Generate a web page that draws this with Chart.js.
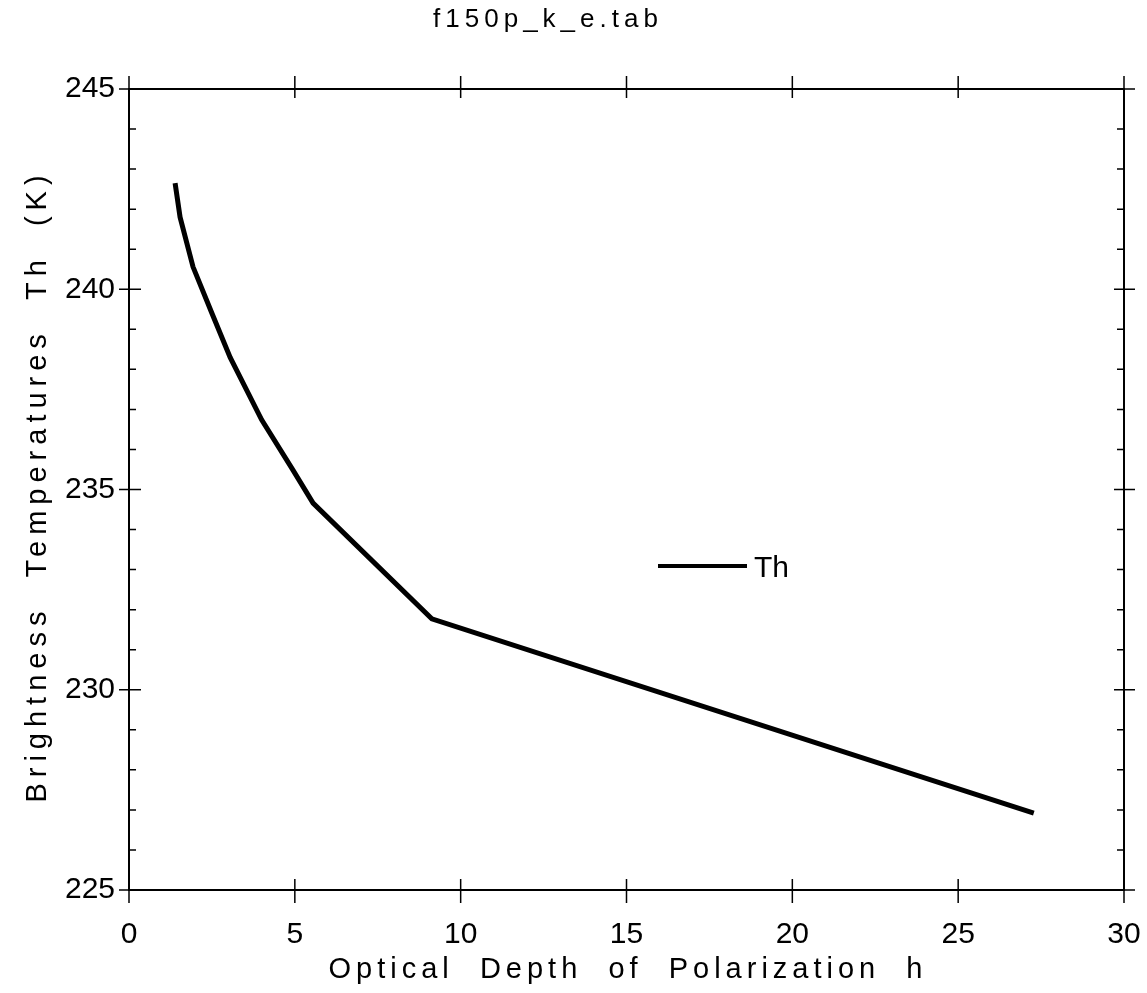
<!DOCTYPE html>
<html lang="en">
<head>
  <meta charset="UTF-8" />
  <title>f150p_k_e.tab</title>
  <script src="https://cdn.jsdelivr.net/npm/chart.js"></script>
  <style>
    body { margin: 0; background: #fff; }
    #wrap { width: 1147px; height: 993px; position: relative; }
  </style>
</head>
<body>
  <div id="wrap"><canvas id="chart" width="1147" height="993"></canvas></div>
  <script>
    // optical depth h vs brightness temperature Th
    const hValues  = [1.39, 1.54, 1.93, 2.5, 3.05, 4.0, 4.94, 5.55, 9.13, 27.28];
    const thValues = [242.65, 241.8, 240.56, 239.4, 238.3, 236.74, 235.49, 234.66, 231.77, 226.92];
    const xTicks = [0, 5, 10, 15, 20, 25, 30];
    const yTicks = [225, 230, 235, 240, 245];
    const yMinorStep = 1;

    const points = hValues.map((h, i) => ({ x: h, y: thValues[i] }));
    const FONT = '"Liberation Sans", Arial, sans-serif';

    // frame, crossing major ticks, inner minor ticks, legend and titles
    const framePlugin = {
      id: 'frame',
      afterDraw(chart) {
        const { ctx, chartArea: a, scales: { x, y } } = chart;
        ctx.save();
        ctx.strokeStyle = '#000';
        ctx.lineWidth = 2;
        ctx.strokeRect(a.left, a.top, a.right - a.left, a.bottom - a.top);

        ctx.lineWidth = 1.5;
        ctx.beginPath();
        xTicks.forEach(v => {
          const px = x.getPixelForValue(v);
          ctx.moveTo(px, a.bottom - 11); ctx.lineTo(px, a.bottom + 13);
          ctx.moveTo(px, a.top - 13); ctx.lineTo(px, a.top + 9);
        });
        yTicks.forEach(v => {
          const py = y.getPixelForValue(v);
          ctx.moveTo(a.left - 10, py); ctx.lineTo(a.left + 12, py);
          ctx.moveTo(a.right - 10, py); ctx.lineTo(a.right + 11, py);
        });
        for (let v = yTicks[0]; v <= yTicks[yTicks.length - 1]; v += yMinorStep) {
          if (yTicks.includes(v)) continue;
          const py = y.getPixelForValue(v);
          ctx.moveTo(a.left, py); ctx.lineTo(a.left + 7, py);
          ctx.moveTo(a.right - 7, py); ctx.lineTo(a.right, py);
        }
        ctx.stroke();

        // legend
        const ds = chart.data.datasets[0];
        ctx.lineWidth = 4;
        ctx.beginPath();
        ctx.moveTo(658, 566); ctx.lineTo(747, 566);
        ctx.stroke();
        ctx.fillStyle = '#000';
        ctx.font = '30px ' + FONT;
        ctx.textBaseline = 'alphabetic';
        ctx.textAlign = 'left';
        ctx.fillText(ds.label, 754, 577);

        // titles
        ctx.textAlign = 'center';
        ctx.letterSpacing = '5px';
        ctx.font = '26px ' + FONT;
        ctx.fillText('f150p_k_e.tab', 548, 27);

        ctx.font = '29px ' + FONT;
        ctx.fillText('Optical  Depth  of  Polarization  h', 628, 978);

        ctx.letterSpacing = '6px';
        ctx.translate(46, 486);
        ctx.rotate(-Math.PI / 2);
        ctx.fillText('Brightness  Temperatures  Th  (K)', 0, 0);
        ctx.restore();
      }
    };

    new Chart(document.getElementById('chart'), {
      type: 'line',
      data: {
        datasets: [{
          label: 'Th',
          data: points,
          borderColor: '#000',
          borderWidth: 5,
          pointRadius: 0,
          fill: false,
          tension: 0
        }]
      },
      options: {
        responsive: false,
        animation: false,
        layout: { padding: { left: 0, right: 23, top: 89, bottom: 0 } },
        plugins: { legend: { display: false }, tooltip: { enabled: false } },
        scales: {
          x: {
            type: 'linear',
            min: 0, max: 30,
            afterBuildTicks: s => { s.ticks = xTicks.map(v => ({ value: v })); },
            afterFit: s => { s.height = 103; s.paddingLeft = 0; s.paddingRight = 0; },
            grid: { display: false, drawTicks: false },
            border: { display: false },
            ticks: { color: '#000', padding: 27, font: { family: FONT, size: 30 } }
          },
          y: {
            min: 225, max: 245,
            afterBuildTicks: s => { s.ticks = yTicks.map(v => ({ value: v })); },
            afterFit: s => { s.width = 129; s.paddingTop = 0; s.paddingBottom = 0; },
            grid: { display: false, drawTicks: false },
            border: { display: false },
            ticks: { color: '#000', padding: 14, font: { family: FONT, size: 30 } }
          }
        }
      },
      plugins: [framePlugin]
    });
  </script>
</body>
</html>
